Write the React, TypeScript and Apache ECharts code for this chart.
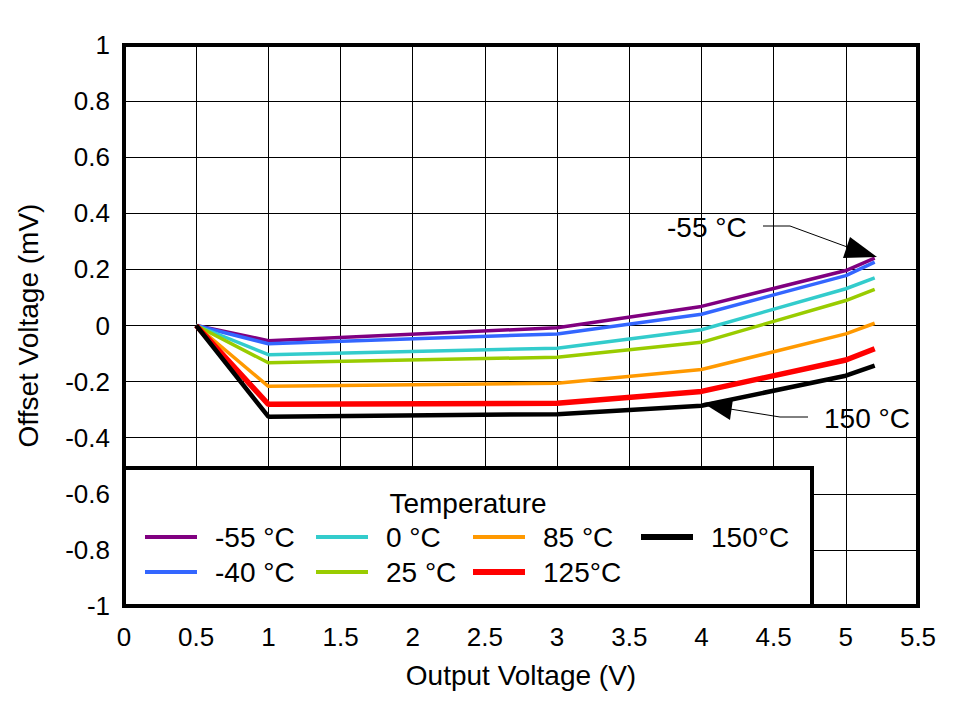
import React, { useEffect, useRef } from "react";
import * as echarts from "echarts";

const xValues = [0.5, 1, 3, 4, 5, 5.2];
const seriesNames = ["-55 °C", "-40 °C", "0 °C", "25 °C", "85 °C", "125°C", "150°C"];
const vM55 = [0, -0.054, -0.008, 0.068, 0.196, 0.24];
const vM40 = [0, -0.065, -0.03, 0.04, 0.178, 0.226];
const v0 = [0, -0.104, -0.081, -0.015, 0.131, 0.17];
const v25 = [0, -0.133, -0.113, -0.06, 0.089, 0.129];
const v85 = [0, -0.217, -0.206, -0.157, -0.03, 0.008];
const v125 = [0, -0.281, -0.277, -0.235, -0.123, -0.083];
const v150 = [0, -0.325, -0.316, -0.286, -0.179, -0.143];
const allValues = [vM55, vM40, v0, v25, v85, v125, v150];
const colors = ["#800080", "#3366ff", "#33cccc", "#99cc00", "#ff9900", "#ff0000", "#000000"];
const widths = [3.5, 3.5, 3.5, 3.5, 3.5, 5.5, 4.5];
const legendIconH = [4, 4, 4, 4, 4, 6, 6];

const FONT = "'Liberation Sans', Arial, sans-serif";
const TXT = 28;
const TICK = 26;

export default function App() {
  const ref = useRef<HTMLDivElement>(null);
  useEffect(() => {
    if (!ref.current) return;
    const chart = echarts.init(ref.current, null, { renderer: "svg" });
    const colLeft = [145, 316, 473, 641];
    const rowTop = [538, 573];
    const legends = seriesNames.map((name, i) => ({
      data: [name],
      left: colLeft[Math.floor(i / 2)],
      top: rowTop[i % 2] - 15,
      icon: "rect",
      itemWidth: 52,
      itemHeight: legendIconH[i],
      selectedMode: false,
      z: 10,
      padding: 0,
      textStyle: { fontSize: TXT, color: "#000", fontFamily: FONT, padding: [0, 0, 0, 13] },
    }));
    chart.setOption({
      animation: false,
      textStyle: { fontFamily: FONT },
      grid: {
        left: 124,
        right: 44,
        top: 45,
        bottom: 95,
        show: true,
        borderColor: "#000",
        borderWidth: 4,
        z: 3,
      },
      xAxis: {
        type: "value",
        min: 0,
        max: 5.5,
        interval: 0.5,
        name: "Output Voltage (V)",
        nameLocation: "middle",
        nameGap: 55,
        nameTextStyle: { fontSize: TXT, color: "#000", fontFamily: FONT },
        axisLine: { show: false },
        axisTick: { show: false },
        axisLabel: { fontSize: TICK, color: "#000", margin: 18, fontFamily: FONT },
        splitLine: { show: true, lineStyle: { color: "#000", width: 1 } },
      },
      yAxis: {
        type: "value",
        min: -1,
        max: 1,
        interval: 0.2,
        name: "Offset Voltage (mV)",
        nameLocation: "middle",
        nameGap: 82,
        nameTextStyle: { fontSize: TXT, color: "#000", fontFamily: FONT },
        axisLine: { show: false },
        axisTick: { show: false },
        axisLabel: {
          fontSize: TICK,
          color: "#000",
          margin: 14,
          fontFamily: FONT,
          formatter: (v: number) => String(Math.round(v * 10) / 10),
        },
        splitLine: { show: true, lineStyle: { color: "#000", width: 1 } },
      },
      legend: legends,
      series: seriesNames.map((name, i) => ({
        name,
        type: "line",
        symbol: "none",
        z: 4,
        itemStyle: { color: colors[i] },
        lineStyle: { color: colors[i], width: widths[i] },
        data: xValues.map((x, j) => [x, allValues[i][j]]),
      })),
      graphic: [
        {
          type: "rect",
          z: 5,
          shape: { x: 124, y: 468, width: 688, height: 138 },
          style: { fill: "#fff", stroke: "#000", lineWidth: 4 },
        },
        {
          type: "text",
          z: 11,
          x: 468,
          y: 503,
          style: {
            text: "Temperature",
            fontSize: TXT,
            fontFamily: FONT,
            fill: "#000",
            textAlign: "center",
            textVerticalAlign: "middle",
          },
        },
        {
          type: "text",
          z: 11,
          x: 667,
          y: 227,
          style: {
            text: "-55 °C",
            fontSize: TXT,
            fontFamily: FONT,
            fill: "#000",
            textAlign: "left",
            textVerticalAlign: "middle",
          },
        },
        {
          type: "polyline",
          z: 11,
          shape: { points: [[763, 226], [790, 226], [850, 248]] },
          style: { stroke: "#000", lineWidth: 1, fill: null },
        },
        {
          type: "polygon",
          z: 11,
          shape: { points: [[877, 257], [850, 237], [843, 258]] },
          style: { fill: "#000" },
        },
        {
          type: "text",
          z: 11,
          x: 824,
          y: 418,
          style: {
            text: "150 °C",
            fontSize: TXT,
            fontFamily: FONT,
            fill: "#000",
            textAlign: "left",
            textVerticalAlign: "middle",
          },
        },
        {
          type: "polyline",
          z: 11,
          shape: { points: [[808, 417], [780, 417], [730, 409]] },
          style: { stroke: "#000", lineWidth: 1, fill: null },
        },
        {
          type: "polygon",
          z: 11,
          shape: { points: [[703, 403], [733, 399], [730, 420]] },
          style: { fill: "#000" },
        },
      ],
    });
    return () => chart.dispose();
  }, []);
  return (
    <div
      ref={ref}
      style={{ position: "fixed", left: 0, top: 0, width: 962, height: 701, background: "#fff" }}
    />
  );
}
